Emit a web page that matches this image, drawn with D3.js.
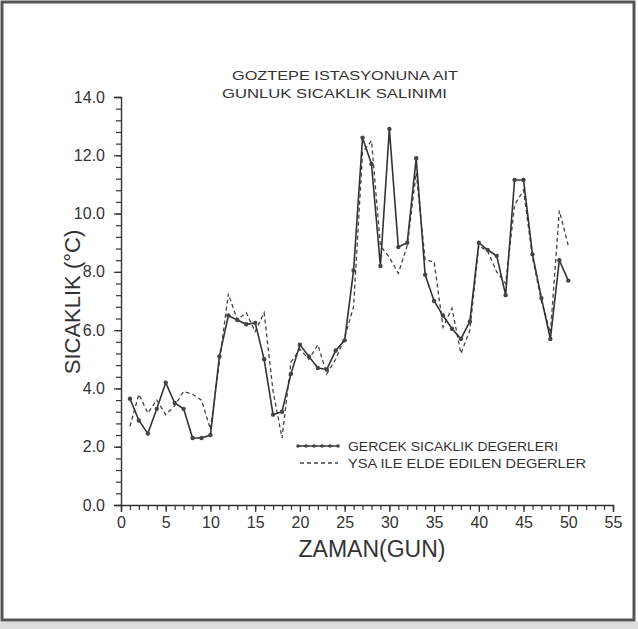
<!DOCTYPE html>
<html>
<head>
<meta charset="utf-8">
<script src="https://cdn.jsdelivr.net/npm/d3@7"></script>
<style>
  body { margin: 0; background: #fff; }
  text { font-family: "Liberation Sans", "DejaVu Sans", sans-serif; fill: #333; }
</style>
</head>
<body>
<div id="chart"></div>
<script>
// days (GUN)
var days = [1,2,3,4,5,6,7,8,9,10,11,12,13,14,15,16,17,18,19,20,21,22,23,24,25,
            26,27,28,29,30,31,32,33,34,35,36,37,38,39,40,41,42,43,44,45,46,47,48,49,50];
// gercek sicaklik degerleri
var actual = [3.65,2.9,2.45,3.3,4.2,3.5,3.3,2.3,2.3,2.4,5.1,6.5,6.35,6.2,6.25,5.0,3.1,3.2,4.5,5.5,
              5.1,4.7,4.65,5.3,5.65,8.05,12.6,11.7,8.2,12.9,8.85,9.0,11.9,7.9,7.0,6.5,6.05,5.7,6.3,9.0,
              8.75,8.55,7.2,11.15,11.15,8.6,7.1,5.7,8.4,7.7];
// ysa ile elde edilen degerler
var predicted = [2.7,3.8,3.15,3.6,3.1,3.4,3.9,3.8,3.6,2.6,4.9,7.25,6.35,6.6,5.95,6.6,3.9,2.3,4.9,5.35,
                 5.0,5.5,4.5,5.0,5.75,6.8,12.1,12.5,8.9,8.5,7.95,8.9,11.4,8.4,8.35,6.1,6.75,5.2,6.0,8.9,
                 8.7,8.0,7.6,10.3,10.8,8.5,7.0,5.9,10.1,8.9];

var xTicks = [0,5,10,15,20,25,30,35,40,45,50,55];
var yTicks = [0,2,4,6,8,10,12,14];
var titleLines = ["GOZTEPE ISTASYONUNA AIT", "GUNLUK SICAKLIK SALINIMI"];
var legendLabels = ["GERCEK SICAKLIK DEGERLERI", "YSA ILE ELDE EDILEN DEGERLER"];

var width = 638, height = 629;

var svg = d3.select('#chart')
    .append('svg')
    .attr('width', width)
    .attr('height', height);

// scan frame
svg.append('rect')
    .attr('x', 0).attr('y', 0).attr('width', width).attr('height', height)
    .attr('fill', '#fff');
svg.append('rect')
    .attr('x', 2).attr('y', 2).attr('width', 632).attr('height', 618)
    .attr('fill', 'none')
    .attr('stroke', '#555')
    .attr('stroke-width', 3);
svg.append('rect')
    .attr('x', 0).attr('y', 622).attr('width', width).attr('height', 7)
    .attr('fill', '#ddd');

var x = d3.scaleLinear().domain([0, 55]).range([121, 613]);
var y = d3.scaleLinear().domain([0, 14]).range([505, 97]);

// y axis: minor + major ticks
svg.append('g')
    .attr('transform', 'translate(121,0)')
    .call(d3.axisLeft(y).tickValues(d3.range(0, 14.01, 0.4)).tickSize(5).tickFormat(''))
    .call(g => g.select('.domain').remove())
    .selectAll('line').attr('stroke', '#333').attr('stroke-width', 1.2);

var yAxis = svg.append('g')
    .attr('transform', 'translate(121,0)')
    .call(d3.axisLeft(y).tickValues(yTicks).tickSize(7).tickPadding(9).tickFormat(d3.format('.1f')));
yAxis.select('.domain').attr('stroke', '#333').attr('stroke-width', 1.4);
yAxis.selectAll('line').attr('stroke', '#333').attr('stroke-width', 1.2);
yAxis.selectAll('text')
    .style('font-size', '16px')
    .style('font-family', '"Liberation Sans", sans-serif')
    .attr('fill', '#444');

// x axis
svg.append('g')
    .attr('transform', 'translate(0,505)')
    .call(d3.axisBottom(x).tickValues(d3.range(0, 56, 1)).tickSize(5).tickFormat(''))
    .call(g => g.select('.domain').remove())
    .selectAll('line').attr('stroke', '#333').attr('stroke-width', 1.2);

var xAxis = svg.append('g')
    .attr('transform', 'translate(0,505)')
    .call(d3.axisBottom(x).tickValues(xTicks).tickSize(7).tickPadding(5));
xAxis.select('.domain').attr('stroke', '#333').attr('stroke-width', 1.4);
xAxis.selectAll('line').attr('stroke', '#333').attr('stroke-width', 1.2);
xAxis.selectAll('text')
    .style('font-size', '16px')
    .style('font-family', '"Liberation Sans", sans-serif')
    .attr('fill', '#444');

// axis titles
svg.append('text')
    .attr('transform', 'translate(80,302) rotate(-90)')
    .attr('text-anchor', 'middle')
    .style('font-size', '22px')
    .text('SICAKLIK (°C)');

svg.append('text')
    .attr('x', 372)
    .attr('y', 557)
    .attr('text-anchor', 'middle')
    .style('font-size', '23px')
    .text('ZAMAN(GUN)');

// plot title
svg.selectAll('.title')
    .data(titleLines)
    .enter()
    .append('text')
    .attr('class', 'title')
    .attr('x', (d, i) => i === 0 ? 232 : 222)
    .attr('y', (d, i) => 80 + i * 18)
    .attr('textLength', (d, i) => i === 0 ? 226 : 225)
    .attr('lengthAdjust', 'spacingAndGlyphs')
    .style('font-size', '13px')
    .text(d => d);

// lines
var line = d3.line()
    .x((d, i) => x(days[i]))
    .y(d => y(d));

svg.append('path')
    .datum(predicted)
    .attr('d', line)
    .attr('fill', 'none')
    .attr('stroke', '#444')
    .attr('stroke-width', 1.3)
    .attr('stroke-dasharray', '4,3');

svg.append('path')
    .datum(actual)
    .attr('d', line)
    .attr('fill', 'none')
    .attr('stroke', '#333')
    .attr('stroke-width', 1.6);

svg.selectAll('.dot')
    .data(actual)
    .enter()
    .append('circle')
    .attr('class', 'dot')
    .attr('cx', (d, i) => x(days[i]))
    .attr('cy', d => y(d))
    .attr('r', 2.2)
    .attr('fill', '#444');

// legend
var legend = svg.append('g').attr('transform', 'translate(298,446)');
legend.append('line')
    .attr('x1', 0).attr('x2', 40).attr('y1', 0).attr('y2', 0)
    .attr('stroke', '#333').attr('stroke-width', 1.6);
legend.selectAll('circle')
    .data([0, 8, 16, 24, 32, 40])
    .enter()
    .append('circle')
    .attr('cx', d => d).attr('cy', 0).attr('r', 1.8)
    .attr('fill', '#444');
legend.append('line')
    .attr('x1', 2).attr('x2', 40).attr('y1', 17).attr('y2', 17)
    .attr('stroke', '#444').attr('stroke-width', 1.3)
    .attr('stroke-dasharray', '4,3');
legend.selectAll('text')
    .data(legendLabels)
    .enter()
    .append('text')
    .attr('x', 50)
    .attr('y', (d, i) => i * 17 + 5)
    .attr('textLength', (d, i) => i === 0 ? 210 : 238)
    .attr('lengthAdjust', 'spacingAndGlyphs')
    .style('font-size', '13px')
    .text(d => d);
</script>
</body>
</html>
